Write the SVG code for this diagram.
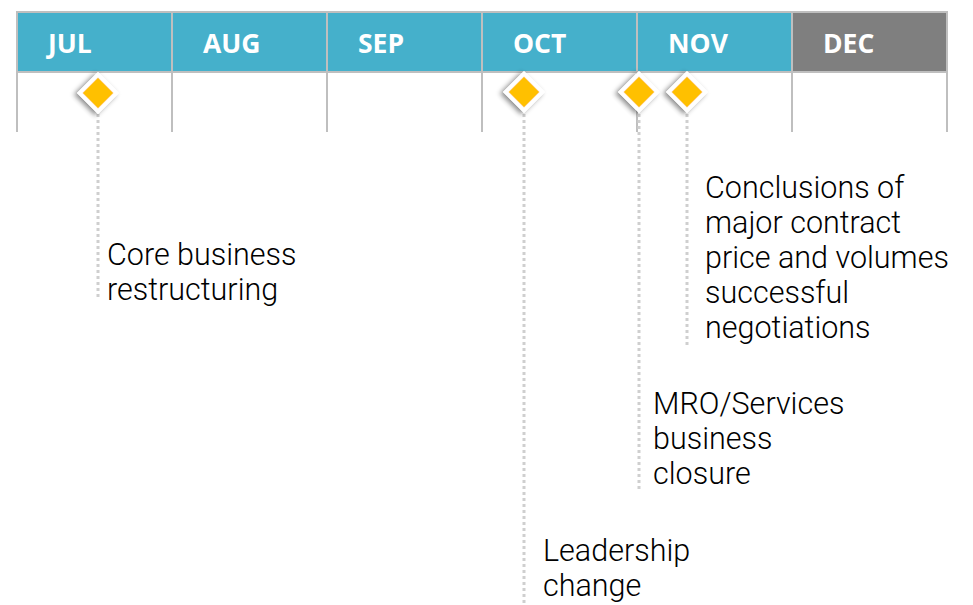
<svg xmlns="http://www.w3.org/2000/svg" width="973" height="605" viewBox="0 0 973 605">
  <defs>
    <filter id="shadow" x="-60%" y="-60%" width="220%" height="220%">
      <feDropShadow dx="-1" dy="3" stdDeviation="2.5" flood-color="#000" flood-opacity="0.45"/>
    </filter>
    <style>
      .month { fill: #45B0CB; stroke: #BFBFBF; stroke-width: 2; }
      .month-off { fill: #7F7F7F; stroke: #BFBFBF; stroke-width: 2; }
      .mlabel { font-family: "Open Sans", "Liberation Sans", sans-serif; font-weight: 700; font-size: 26.5px; fill: #FFFFFF; }
      .grid { stroke: #BFBFBF; stroke-width: 2; fill: none; }
      .leader { stroke: #CFCFCF; stroke-width: 3; stroke-dasharray: 3 3; fill: none; }
      .marker { fill: #FFC000; stroke: #FFFFFF; stroke-width: 4; filter: url(#shadow); }
      .label { font-family: Roboto, "Liberation Sans", sans-serif; font-weight: 300; font-size: 30.5px; fill: #000000; }
    </style>
  </defs>

  <rect width="973" height="605" fill="#FFFFFF"/>

  <!-- month header -->
  <g id="months">
    <g id="m-jul"><rect class="month" x="17" y="12" width="155" height="60"/><text class="mlabel" x="48" y="53">JUL</text></g>
    <g id="m-aug"><rect class="month" x="172" y="12" width="155" height="60"/><text class="mlabel" x="203" y="53">AUG</text></g>
    <g id="m-sep"><rect class="month" x="327" y="12" width="155" height="60"/><text class="mlabel" x="358" y="53">SEP</text></g>
    <g id="m-oct"><rect class="month" x="482" y="12" width="155" height="60"/><text class="mlabel" x="513" y="53">OCT</text></g>
    <g id="m-nov"><rect class="month" x="637" y="12" width="155" height="60"/><text class="mlabel" x="668" y="53">NOV</text></g>
    <g id="m-dec"><rect class="month-off" x="792" y="12" width="155" height="60"/><text class="mlabel" x="823" y="53">DEC</text></g>
  </g>

  <!-- column separators below the header -->
  <g id="grid" class="grid">
    <line x1="17" y1="72" x2="17" y2="132"/>
    <line x1="172" y1="72" x2="172" y2="132"/>
    <line x1="327" y1="72" x2="327" y2="132"/>
    <line x1="482" y1="72" x2="482" y2="132"/>
    <line x1="637" y1="72" x2="637" y2="132"/>
    <line x1="792" y1="72" x2="792" y2="132"/>
    <line x1="947" y1="72" x2="947" y2="132"/>
  </g>

  <!-- dotted leaders from milestones to labels -->
  <g id="connectors" class="leader">
    <line x1="98" y1="114" x2="98" y2="300"/>
    <line x1="524" y1="114" x2="524" y2="605"/>
    <line x1="639" y1="114" x2="639" y2="490"/>
    <line x1="687" y1="114" x2="687" y2="347"/>
  </g>

  <!-- milestones -->
  <g id="ms-restructuring">
    <rect class="marker" x="-13" y="-13" width="26" height="26" transform="translate(98 93) rotate(45)"/>
    <text class="label" x="107" y="265">Core business</text>
    <text class="label" x="107" y="300">restructuring</text>
  </g>
  <g id="ms-leadership">
    <rect class="marker" x="-13" y="-13" width="26" height="26" transform="translate(524 92) rotate(45)"/>
    <text class="label" x="543" y="561">Leadership</text>
    <text class="label" x="543" y="596">change</text>
  </g>
  <g id="ms-mro">
    <rect class="marker" x="-13" y="-13" width="26" height="26" transform="translate(639 92) rotate(45)"/>
    <text class="label" x="653" y="414">MRO/Services</text>
    <text class="label" x="653" y="449">business</text>
    <text class="label" x="653" y="484">closure</text>
  </g>
  <g id="ms-contract">
    <rect class="marker" x="-13" y="-13" width="26" height="26" transform="translate(687 92) rotate(45)"/>
    <text class="label" x="705" y="198">Conclusions of</text>
    <text class="label" x="705" y="233">major contract</text>
    <text class="label" x="705" y="268">price and volumes</text>
    <text class="label" x="705" y="303">successful</text>
    <text class="label" x="705" y="338">negotiations</text>
  </g>
</svg>
